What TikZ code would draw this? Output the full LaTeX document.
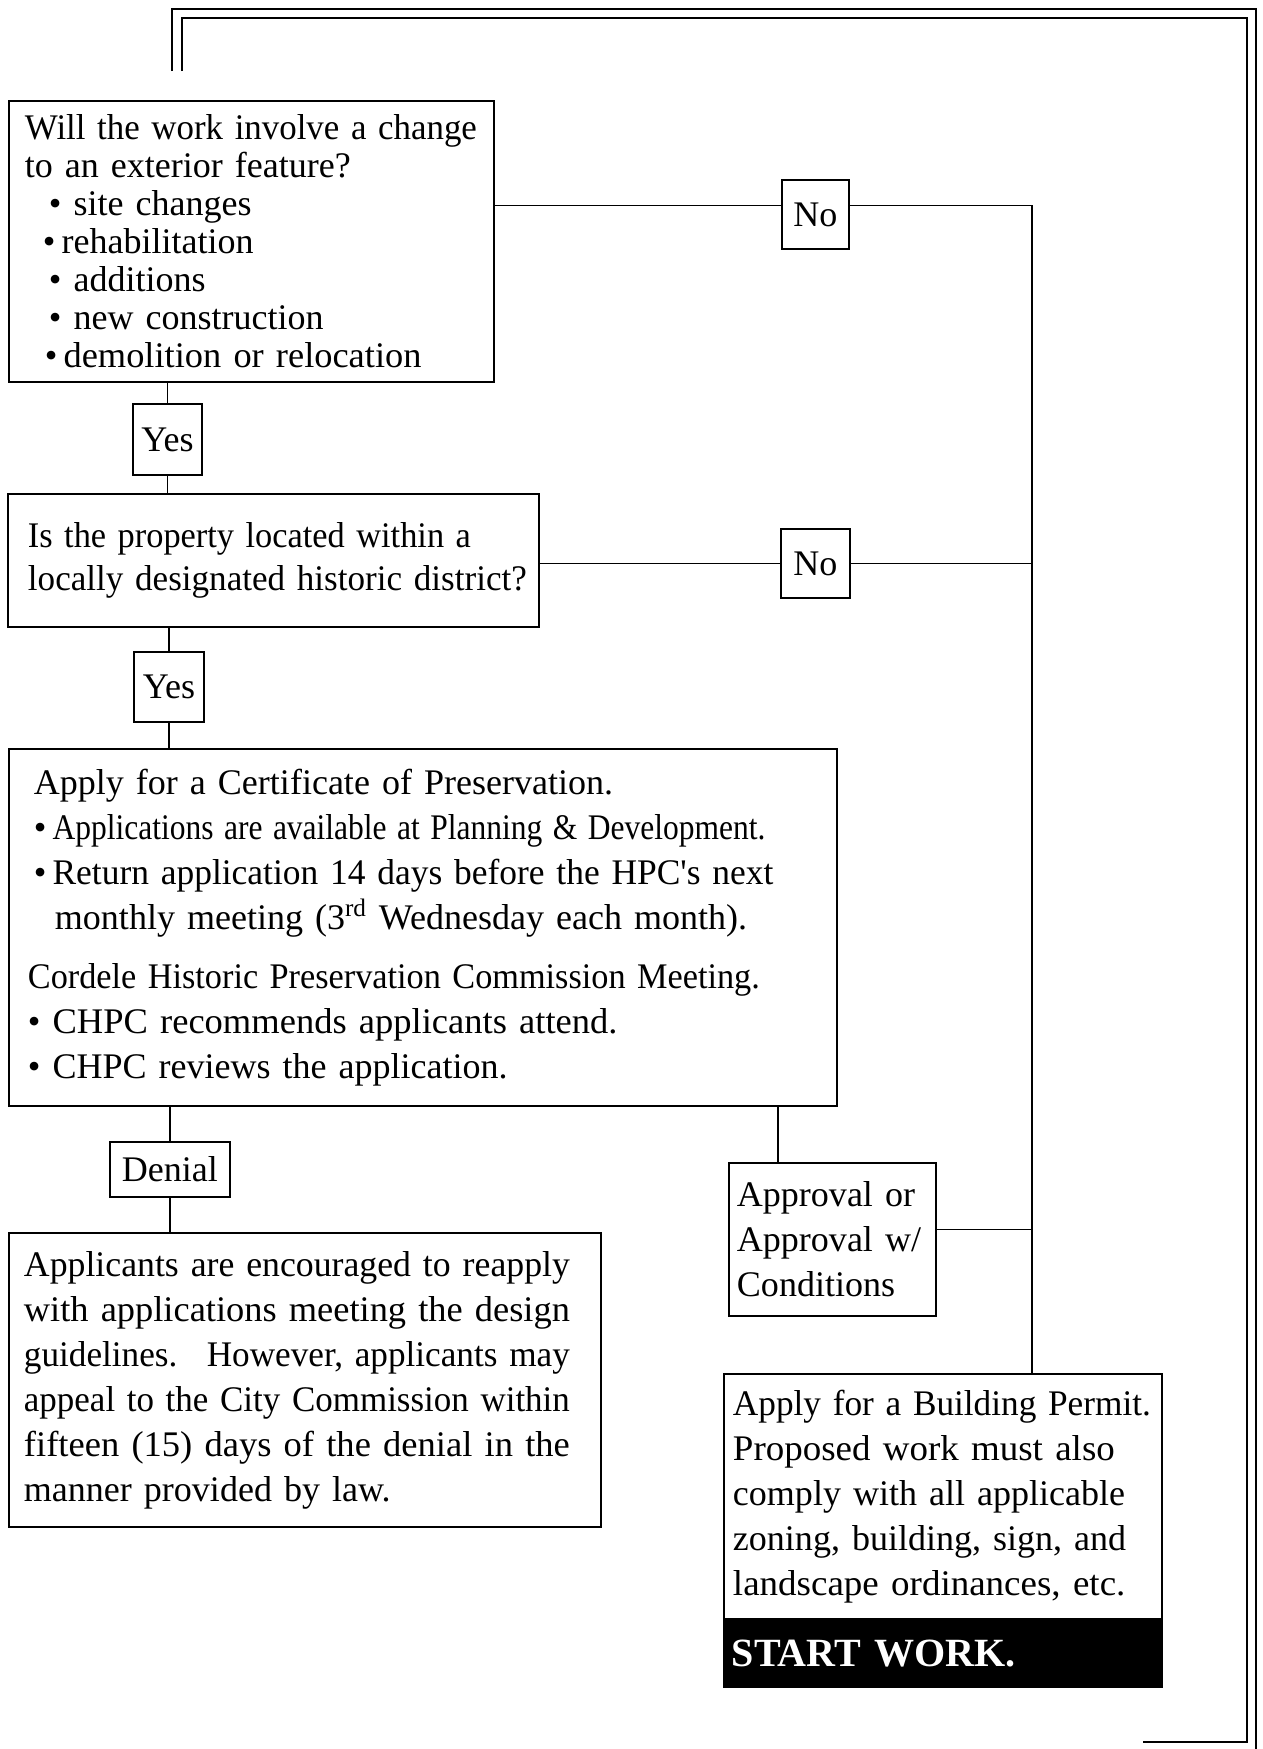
\documentclass[tikz,border=0pt]{standalone}
\usepackage{fontspec}
\usepackage{graphicx}
\setmainfont{Liberation Serif}
\usetikzlibrary{positioning}
\newcommand{\boxfont}[1]{\fontsize{20.5}{#1}\selectfont}
\newcommand{\fit}[2]{\resizebox{#1}{\height}{#2}}

\begin{document}
\begin{tikzpicture}[x=0.02cm,y=-0.02cm,node distance=0pt,
  box/.style={draw,line width=1.1pt,align=left,anchor=north west,inner ysep=0pt},
  tag/.style={draw,line width=1.1pt,anchor=north west,inner sep=0pt,font=\boxfont{24}},
  wire/.style={line width=0.9pt},
  frame/.style={line width=1.1pt}]
\useasboundingbox (0,0) rectangle (1262,1749);

\node[box,font=\boxfont{21.6},inner xsep=0.32cm,text width=9.06cm,minimum width=9.70cm,minimum height=5.62cm] (q1) at (8,100)
  {\fit{9.04cm}{Will the work involve a change}\\
   to an exterior feature?\\
   \hspace*{0.48cm}\textbullet\ site changes\\
   \hspace*{0.36cm}\textbullet\,rehabilitation\\
   \hspace*{0.48cm}\textbullet\ additions\\
   \hspace*{0.48cm}\textbullet\ new construction\\
   \hspace*{0.40cm}\textbullet\,\fit{7.16cm}{demolition or relocation}};
\node[tag,minimum width=1.34cm,minimum height=1.38cm] (no1) at (781,179) {No};
\node[tag,minimum width=1.38cm,minimum height=1.42cm] (yes1) at (132,403) {Yes};

\node[box,font=\boxfont{24.5},inner xsep=0.40cm,text width=9.82cm,minimum width=10.62cm,minimum height=2.66cm] (q2) at (7,493)
  {\fit{8.86cm}{Is the property located within a}\\
   \fit{9.98cm}{locally designated historic district?}};
\node[tag,minimum width=1.38cm,minimum height=1.38cm] (no2) at (780,528) {No};
\node[tag,minimum width=1.40cm,minimum height=1.40cm] (yes2) at (133,651) {Yes};

\node[box,font=\boxfont{25.6},inner xsep=0.38cm,text width=15.80cm,minimum width=16.56cm,minimum height=7.14cm] (q3) at (8,748)
  {\hspace*{0.12cm}Apply for a Certificate of Preservation.\\
   \hspace*{0.12cm}\textbullet\,\fit{14.26cm}{Applications are available at Planning \& Development.}\\
   \hspace*{0.12cm}\textbullet\,\fit{14.42cm}{Return application 14 days before the HPC\textquotesingle s next}\\
   \hspace*{0.54cm}monthly meeting (3\textsuperscript{rd} Wednesday each month).\\[0.28cm]
   \fit{14.64cm}{Cordele Historic Preservation Commission Meeting.}\\
   \textbullet\ \fit{11.30cm}{CHPC recommends applicants attend.}\\
   \textbullet\ CHPC reviews the application.};
\node[tag,minimum width=2.40cm,minimum height=1.10cm] (deny) at (109,1141) {Denial};

\node[box,font=\boxfont{25.6},inner xsep=0.30cm,text width=11.24cm,minimum width=11.84cm,minimum height=5.88cm] (q4) at (8,1232)
  {\fit{10.92cm}{Applicants are encouraged to reapply}\\
   \fit{10.92cm}{with applications meeting the design}\\
   \fit{10.92cm}{guidelines.~ However, applicants may}\\
   \fit{10.92cm}{appeal to the City Commission within}\\
   \fit{10.92cm}{fifteen (15) days of the denial in the}\\
   manner provided by law.};
\node[box,font=\boxfont{25.6},inner xsep=0.16cm,text width=3.82cm,minimum width=4.14cm,minimum height=3.06cm] (ok) at (728,1162)
  {Approval or\\ Approval w/\\ Conditions};

\node[box,font=\boxfont{25.6},inner xsep=0.18cm,text width=8.40cm,minimum width=8.76cm,minimum height=4.90cm] (bp) at (723,1373)
  {\fit{8.36cm}{Apply for a Building Permit.}\\
   \fit{7.64cm}{Proposed work must also}\\
   comply with all applicable\\
   zoning, building, sign, and\\
   \fit{7.85cm}{landscape ordinances, etc.}};
\node[box,anchor=north,fill=black,text=white,font=\fontsize{22.8}{26}\selectfont\bfseries,inner xsep=0.16cm,text width=8.44cm,minimum width=8.76cm,minimum height=1.32cm,below=of bp] (sw) {START WORK.};

\coordinate (rail) at (1032,0);
\coordinate (drop) at (778,0);
\coordinate (fa) at (172,71);
\coordinate (fb) at (182,71);
\coordinate (fc) at (1256,1749);
\coordinate (fd) at (1143,1742);

\draw[wire] ([yshift=0.18cm]no1.west -| q1.east) -- ([yshift=0.18cm]no1.west);
\draw[wire] ([yshift=0.18cm]no1.east) -- ([yshift=0.18cm]no1.east -| rail) -- (bp.north -| rail);
\draw[wire] (no2.west -| q2.east) -- (no2.west);
\draw[wire] (no2.east) -- (no2.east -| rail);
\draw[wire] ([yshift=0.2cm]ok.east) -- ([yshift=0.2cm]ok.east -| rail);
\draw[wire] (yes1.north |- q1.south) -- (yes1.north);
\draw[wire] (yes1.south) -- (yes1.south |- q2.north);
\draw[wire] (yes2.north |- q2.south) -- (yes2.north);
\draw[wire] (yes2.south) -- (yes2.south |- q3.north);
\draw[wire] (deny.north |- q3.south) -- (deny.north);
\draw[wire] (deny.south) -- (deny.south |- q4.north);
\draw[wire] (q3.south -| drop) -- (ok.north -| drop);

% loop back to the top
\draw[frame] (fa) -- (172,9) -- (1256,9) -- (fc);
\draw[frame] (fb) -- (182,18) -- (1247,18) -- (1247,1742) -- (fd);
\end{tikzpicture}
\end{document}
